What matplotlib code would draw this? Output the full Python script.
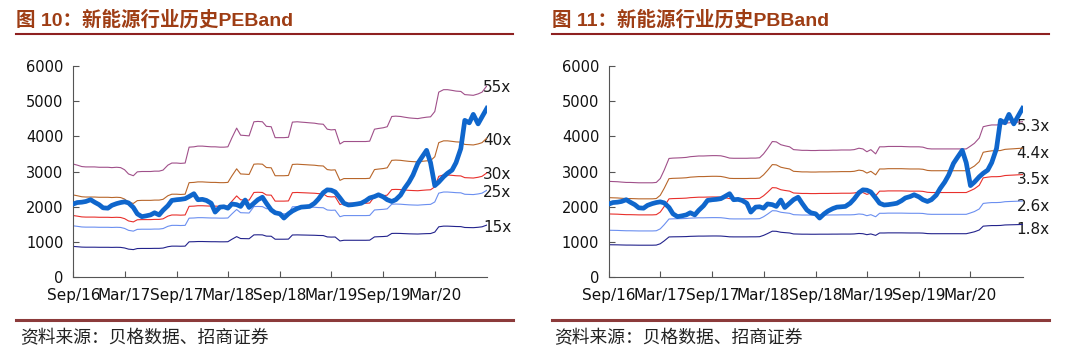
import numpy as np
import pandas as pd
import matplotlib
matplotlib.use("Agg")
import matplotlib.pyplot as plt
import matplotlib.dates as mdates
from matplotlib.lines import Line2D

plt.rcParams['font.family'] = ['DejaVu Sans', 'Noto Sans CJK SC']

# %%
# Data (semi-monthly, Sep 2016 -> Sep 2020)
dates = pd.date_range('2016-09-01', periods=97, freq='SMS')

# 新能源行业指数
index_vals = [
    2080, 2120, 2130, 2150, 2200, 2130, 2060, 1970, 1960, 2040,
    2090, 2120, 2140, 2110, 1980, 1800, 1720, 1740, 1770, 1830,
    1770, 1900, 2030, 2180, 2200, 2210, 2230, 2290, 2370, 2200,
    2210, 2180, 2100, 1850, 1990, 2000, 1960, 2080, 2060, 2010,
    2190, 1980, 2100, 2200, 2270, 2100, 1910, 1830, 1800, 1680,
    1800, 1880, 1950, 1990, 2000, 2010, 2100, 2220, 2400, 2480,
    2470, 2420, 2250, 2100, 2050, 2060, 2080, 2100, 2170, 2250,
    2290, 2340, 2280, 2200, 2150, 2200, 2330, 2520, 2700, 2900,
    3230, 3400, 3600, 3250, 2600, 2700, 2850, 2950, 3040, 3250,
    3650, 4450, 4380, 4620, 4350, 4550, 4790,
]

# top PE band (55x); the other bands scale with the same EPS
pe_55x = [
    3210, 3180, 3140, 3130, 3130, 3130, 3120, 3120, 3120, 3110,
    3120, 3110, 3050, 2930, 2880, 2990, 3000, 3000, 3000, 3010,
    3010, 3040, 3180, 3240, 3240, 3230, 3240, 3690, 3700, 3720,
    3720, 3710, 3700, 3700, 3690, 3690, 3700, 3950, 4230, 4030,
    4020, 4010, 4410, 4420, 4410, 4280, 4270, 3960, 3960, 3960,
    3970, 4400, 4410, 4400, 4390, 4380, 4370, 4350, 4340, 4200,
    4180, 4190, 3780, 3850, 3850, 3850, 3850, 3850, 3850, 3860,
    4200, 4220, 4240, 4270, 4560, 4570, 4560, 4540, 4520, 4510,
    4500, 4520, 4540, 4550, 4700, 5250, 5320, 5320, 5300, 5280,
    5270, 5180, 5170, 5160, 5200, 5250, 5430,
]
pe_multiples = [55, 40, 30, 25, 15]
pe_labels = ['55x', '40x', '30x', '25x', '15x']

# top PB band (5.3x)
pb_53x = [
    2720, 2715, 2710, 2700, 2690, 2690, 2685, 2680, 2680, 2680,
    2680, 2690, 2800, 3040, 3370, 3380, 3385, 3390, 3400, 3420,
    3430, 3440, 3440, 3445, 3450, 3450, 3445, 3420, 3380, 3375,
    3375, 3375, 3375, 3380, 3380, 3390, 3500, 3650, 3850, 3840,
    3760, 3730, 3700, 3620, 3610, 3600, 3600, 3595, 3595, 3600,
    3600, 3600, 3605, 3605, 3610, 3610, 3610, 3620, 3660, 3640,
    3560, 3620, 3500, 3700, 3700, 3710, 3710, 3710, 3710, 3705,
    3700, 3700, 3700, 3690, 3650, 3640, 3640, 3640, 3640, 3640,
    3640, 3640, 3640, 3640, 3720, 3800, 3950, 4270, 4300, 4320,
    4320, 4330, 4370, 4380, 4390, 4400, 4410,
]
pb_multiples = [5.3, 4.4, 3.5, 2.6, 1.8]
pb_labels = ['5.3x', '4.4x', '3.5x', '2.6x', '1.8x']

band_colors = ['#a0508a', '#b8662a', '#e8302c', '#6b8ff0', '#23238c']
index_color = '#0f66cc'

tick_dates = pd.date_range('2016-09-01', '2020-03-01', freq='6MS')
yticks = [0, 1000, 2000, 3000, 4000, 5000, 6000]

eps = np.array(pe_55x) / 55.0
bps = np.array(pb_53x) / 5.3

# %%
fig = plt.figure(figsize=(10.8, 3.5), dpi=100)
ax_pe = fig.add_axes([0.0679, 0.2077, 0.3829, 0.6046])
ax_pb = fig.add_axes([0.5639, 0.2077, 0.3829, 0.6046])


def draw_panel(ax, base, multiples, labels, lab_off):
    for m, lab, c in zip(multiples, labels, band_colors):
        band = base * m
        ax.plot(dates, band, color=c, lw=0.8, zorder=2)
        ax.annotate(lab, (dates[-1], band[-1]), xytext=lab_off,
                    textcoords='offset pixels', ha='left', va='center',
                    fontsize=11, color='#1a1a1a', zorder=1,
                    annotation_clip=False)
    ax.plot(dates, index_vals, color=index_color, lw=3.4, zorder=3,
            solid_joinstyle='round')
    ax.set_xlim(dates[0], dates[-1])
    ax.set_ylim(0, 6000)
    ax.set_yticks(yticks)
    ax.set_xticks(tick_dates)
    ax.xaxis.set_major_formatter(mdates.DateFormatter('%b/%y'))
    for s in ['top', 'right']:
        ax.spines[s].set_visible(False)
    for s in ['left', 'bottom']:
        ax.spines[s].set_color('#555555')
        ax.spines[s].set_linewidth(0.8)
    ax.tick_params(direction='in', length=4, width=0.8, color='#555555',
                   labelcolor='#111111')
    ax.tick_params(axis='y', pad=7, labelsize=10.5)
    ax.tick_params(axis='x', pad=8, labelsize=11)


draw_panel(ax_pe, eps, pe_multiples, pe_labels, (-4, -2))
draw_panel(ax_pb, bps, pb_multiples, pb_labels, (-6, -5))

# %%
# titles, rules and source notes
title_kw = dict(fontsize=14, fontweight='bold', color='#9e3d14', va='center',
                family=['Liberation Sans', 'Noto Sans CJK SC'])
fig.text(0.0148, 0.943, '图 10：新能源行业历史PEBand', **title_kw)
fig.text(0.511, 0.943, '图 11：新能源行业历史PBBand', **title_kw)

for x0, x1 in [(0.0148, 0.475), (0.511, 0.971)]:
    fig.add_artist(Line2D([x0, x1], [0.903, 0.903], color='#8e2020', lw=1.5))
    fig.add_artist(Line2D([x0, x1], [0.0857, 0.0857], color='#8c3b3b', lw=2.2))

src_kw = dict(fontsize=12.8, color='#222222', va='center',
              family=['Noto Sans CJK SC', 'DejaVu Sans'])
fig.text(0.019, 0.034, '资料来源：贝格数据、招商证券', **src_kw)
fig.text(0.513, 0.034, '资料来源：贝格数据、招商证券', **src_kw)

fig.savefig('out.png', dpi=100)
